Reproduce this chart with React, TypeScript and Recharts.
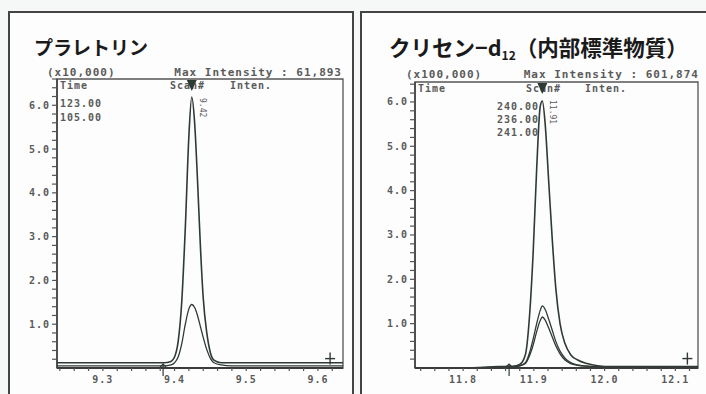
import React from "react";
import { LineChart, Line, XAxis, YAxis, ReferenceDot, ReferenceArea } from "recharts";

// ---------- data ----------
const LEFT_TIMES = [9.236, 9.3, 9.36, 9.385, 9.395, 9.4, 9.405, 9.41, 9.415, 9.42, 9.424, 9.428, 9.432, 9.436, 9.44, 9.445, 9.45, 9.455, 9.465, 9.48, 9.52, 9.58, 9.635];
const LEFT_ION_123 = [0.12, 0.12, 0.12, 0.12, 0.15, 0.25, 0.6, 1.5, 3.2, 5.3, 6.19, 5.6, 4.3, 2.8, 1.6, 0.8, 0.35, 0.18, 0.12, 0.12, 0.12, 0.12, 0.12];
const LEFT_ION_105 = [0.05, 0.05, 0.05, 0.05, 0.07, 0.12, 0.25, 0.55, 1.0, 1.35, 1.45, 1.38, 1.2, 0.95, 0.7, 0.42, 0.22, 0.12, 0.07, 0.05, 0.05, 0.05, 0.05];

const RIGHT_TIMES = [11.732, 11.8, 11.85, 11.87, 11.88, 11.888, 11.894, 11.899, 11.904, 11.909, 11.912, 11.916, 11.921, 11.926, 11.931, 11.937, 11.944, 11.952, 11.962, 11.975, 11.99, 12.01, 12.06, 12.132];
const RIGHT_ION_240 = [0, 0, 0.03, 0.04, 0.08, 0.3, 1.2, 2.6, 4.5, 5.9, 6.02, 5.5, 4.2, 2.9, 1.8, 1.0, 0.55, 0.3, 0.18, 0.1, 0.05, 0.03, 0.03, 0.03];
const RIGHT_ION_236 = [0, 0, 0.02, 0.03, 0.05, 0.12, 0.35, 0.65, 1.0, 1.3, 1.4, 1.32, 1.1, 0.85, 0.6, 0.38, 0.22, 0.12, 0.07, 0.04, 0.03, 0.02, 0.02, 0.02];
const RIGHT_ION_241 = [0, 0, 0.02, 0.03, 0.05, 0.1, 0.28, 0.52, 0.82, 1.07, 1.15, 1.08, 0.9, 0.7, 0.5, 0.32, 0.18, 0.1, 0.06, 0.04, 0.03, 0.02, 0.02, 0.02];

const LEFT_X_TICKS = [9.24, 9.26, 9.28, 9.3, 9.32, 9.34, 9.36, 9.38, 9.4, 9.42, 9.44, 9.46, 9.48, 9.5, 9.52, 9.54, 9.56, 9.58, 9.6, 9.62];
const RIGHT_X_TICKS = [11.74, 11.76, 11.78, 11.8, 11.82, 11.84, 11.86, 11.88, 11.9, 11.92, 11.94, 11.96, 11.98, 12.0, 12.02, 12.04, 12.06, 12.08, 12.1, 12.12];
const LEFT_Y_TICKS = [0.2, 0.4, 0.6, 0.8, 1, 1.2, 1.4, 1.6, 1.8, 2, 2.2, 2.4, 2.6, 2.8, 3, 3.2, 3.4, 3.6, 3.8, 4, 4.2, 4.4, 4.6, 4.8, 5, 5.2, 5.4, 5.6, 5.8, 6, 6.2, 6.4, 6.6];
const RIGHT_Y_TICKS = [0.2, 0.4, 0.6, 0.8, 1, 1.2, 1.4, 1.6, 1.8, 2, 2.2, 2.4, 2.6, 2.8, 3, 3.2, 3.4, 3.6, 3.8, 4, 4.2, 4.4, 4.6, 4.8, 5, 5.2, 5.4, 5.6, 5.8, 6, 6.2, 6.4];

const LEFT_PEAK = 9.424;
const RIGHT_PEAK = 11.912;
const LEFT_MARKS = { start: 9.384, end: 9.617 };
const RIGHT_MARKS = { start: 11.865, end: 12.117 };

const leftData = LEFT_TIMES.map((t, i) => ({ t, a: LEFT_ION_123[i], b: LEFT_ION_105[i] }));
const rightData = RIGHT_TIMES.map((t, i) => ({ t, a: RIGHT_ION_240[i], b: RIGHT_ION_236[i], c: RIGHT_ION_241[i] }));

// ---------- styles ----------
const LINE = "#2f3a34";
const TXT = "#5a5a5a";
const MONO = "'DejaVu Sans Mono', monospace";
const CJK = "'Noto Sans CJK JP', sans-serif";

const isMajor = (v: number) => Math.abs(v * 10 - Math.round(v * 10)) < 1e-6;

const XTick = (props: any) => {
  const { x, y, payload } = props;
  if (!isMajor(payload.value)) return <g />;
  return (
    <text x={x} y={y + 10} textAnchor="middle" fontFamily={MONO} fontSize={10} fontWeight={700} fill={TXT} letterSpacing={1}>
      {payload.value.toFixed(1)}
    </text>
  );
};

const YTick = (props: any) => {
  const { x, y, payload } = props;
  const v = Math.round(payload.value * 1000) / 1000;
  if (!Number.isInteger(v)) return <g />;
  return (
    <text x={x} y={y + 3.5} textAnchor="end" fontFamily={MONO} fontSize={10} fontWeight={700} fill={TXT} letterSpacing={1}>
      {v.toFixed(1)}
    </text>
  );
};

const PeakMarker = (props: any) => {
  const { cx, cy } = props;
  return <path d={`M${cx - 5},${cy + 1} L${cx + 5},${cy + 1} L${cx},${cy + 12} Z`} fill={LINE} />;
};
const UpArrow = (props: any) => {
  const { cx, cy } = props;
  return (
    <g stroke={LINE} strokeWidth={1.2} fill="none">
      <path d={`M${cx},${cy + 8} L${cx},${cy - 4}`} />
      <path d={`M${cx - 3},${cy - 1} L${cx},${cy - 4} L${cx + 3},${cy - 1}`} />
    </g>
  );
};
const Plus = (props: any) => {
  const { cx, cy } = props;
  return (
    <g stroke={LINE} strokeWidth={1.4}>
      <path d={`M${cx - 5},${cy - 5} L${cx + 5},${cy - 5}`} />
      <path d={`M${cx},${cy - 11} L${cx},${cy + 1}`} />
    </g>
  );
};

function Panel(props: {
  data: any[];
  left: number;
  width: number;
  top: number;
  domainX: [number, number];
  domainY: [number, number];
  xTicks: number[];
  yTicks: number[];
  keys: string[];
  peak: number;
  marks: { start: number; end: number };
}) {
  const { data, left, width, top, domainX, domainY, xTicks, yTicks, keys, peak, marks } = props;
  return (
    <div style={{ position: "absolute", left: 0, top: 0 }}>
      <LineChart width={width} height={394} data={data} margin={{ top, left: left - 40, right: 8, bottom: 6 }}>
        <ReferenceArea x1={domainX[0]} x2={domainX[1]} y1={domainY[0]} y2={domainY[1]} fill="none" stroke="#555" strokeWidth={1.3} ifOverflow="visible" />
        <XAxis
          dataKey="t"
          type="number"
          domain={domainX}
          ticks={xTicks}
          interval={0}
          allowDataOverflow
          tick={<XTick />}
          tickSize={3}
          height={20}
          axisLine={{ stroke: "#3a3a3a", strokeWidth: 2 }}
          tickLine={{ stroke: "#555", strokeWidth: 1.2 }}
        />
        <YAxis
          type="number"
          domain={domainY}
          ticks={yTicks}
          interval={0}
          allowDataOverflow
          tick={<YTick />}
          tickSize={5}
          width={40}
          axisLine={{ stroke: "#3a3a3a", strokeWidth: 1.5 }}
          tickLine={{ stroke: "#555", strokeWidth: 1.2 }}
        />
        {keys.map((k, i) => (
          <Line
            key={k}
            dataKey={k}
            type="monotone"
            stroke={LINE}
            strokeWidth={i === 0 ? 1.6 : 1.3}
            dot={false}
            isAnimationActive={false}
          />
        ))}
        <ReferenceDot x={peak} y={domainY[1]} r={5} shape={<PeakMarker />} ifOverflow="visible" />
        <ReferenceDot x={marks.start} y={0} r={4} shape={<UpArrow />} ifOverflow="visible" />
        <ReferenceDot x={marks.end} y={0.1} r={4} shape={<Plus />} ifOverflow="visible" />
      </LineChart>
    </div>
  );
}

const monoText = { fontFamily: MONO, fontSize: 10, fontWeight: 700, fill: TXT, letterSpacing: 1 } as const;
const headText = { fontFamily: MONO, fontSize: 11, fontWeight: 700, fill: TXT, letterSpacing: 1 } as const;

export default function App() {
  return (
    <div style={{ position: "absolute", left: 0, top: 0, width: 706, height: 394, background: "#f6f8f7", overflow: "hidden" }}>
      <svg width={706} height={394} style={{ position: "absolute", left: 0, top: 0 }}>
        <rect x={0} y={0} width={706} height={394} fill="#f6f8f7" />
        <rect x={9} y={12} width={344} height={400} fill="#fdfdfd" stroke="#444" strokeWidth={2} />
        <rect x={361} y={12} width={360} height={400} fill="#fdfdfd" stroke="#444" strokeWidth={2} />
        <text x={34} y={55} fontFamily={CJK} fontSize={19} fontWeight={700} fill="#1a1a1a">プラレトリン</text>
        <text x={389} y={56} fontFamily={CJK} fontSize={21.5} fontWeight={700} fill="#1a1a1a">
          クリセン−d<tspan fontSize={12} dy={4}>12</tspan><tspan dy={-4}>（内部標準物質）</tspan>
        </text>
        <text x={47} y={76} {...headText}>(x10,000)</text>
        <text x={342} y={76} textAnchor="end" {...headText}>Max Intensity :  61,893</text>
        <text x={406} y={78} {...headText}>(x100,000)</text>
        <text x={699} y={78} textAnchor="end" {...headText}>Max Intensity : 601,874</text>

        <text x={60} y={89} {...monoText}>Time</text>
        <text x={170} y={89} {...monoText}>Scan#</text>
        <text x={230} y={89} {...monoText}>Inten.</text>
        <text x={60} y={107} {...monoText}>123.00</text>
        <text x={60} y={121} {...monoText}>105.00</text>
        <text x={200} y={98} fontFamily={MONO} fontSize={8} fill={TXT} transform="rotate(90 200 98)">9.42</text>

        <text x={418} y={92} {...monoText}>Time</text>
        <text x={526} y={92} {...monoText}>Scan#</text>
        <text x={585} y={92} {...monoText}>Inten.</text>
        <text x={497} y={110} {...monoText}>240.00</text>
        <text x={497} y={123} {...monoText}>236.00</text>
        <text x={497} y={136} {...monoText}>241.00</text>
        <text x={550} y={100} fontFamily={MONO} fontSize={8} fill={TXT} transform="rotate(90 550 100)">11.91</text>
      </svg>
      <Panel
        data={leftData}
        left={57}
        width={351}
        top={79}
        domainX={[9.236, 9.635]}
        domainY={[0, 6.6]}
        xTicks={LEFT_X_TICKS}
        yTicks={LEFT_Y_TICKS}
        keys={["a", "b"]}
        peak={LEFT_PEAK}
        marks={LEFT_MARKS}
      />
      <Panel
        data={rightData}
        left={415}
        width={706}
        top={82}
        domainX={[11.732, 12.132]}
        domainY={[0, 6.45]}
        xTicks={RIGHT_X_TICKS}
        yTicks={RIGHT_Y_TICKS}
        keys={["a", "b", "c"]}
        peak={RIGHT_PEAK}
        marks={RIGHT_MARKS}
      />
    </div>
  );
}
